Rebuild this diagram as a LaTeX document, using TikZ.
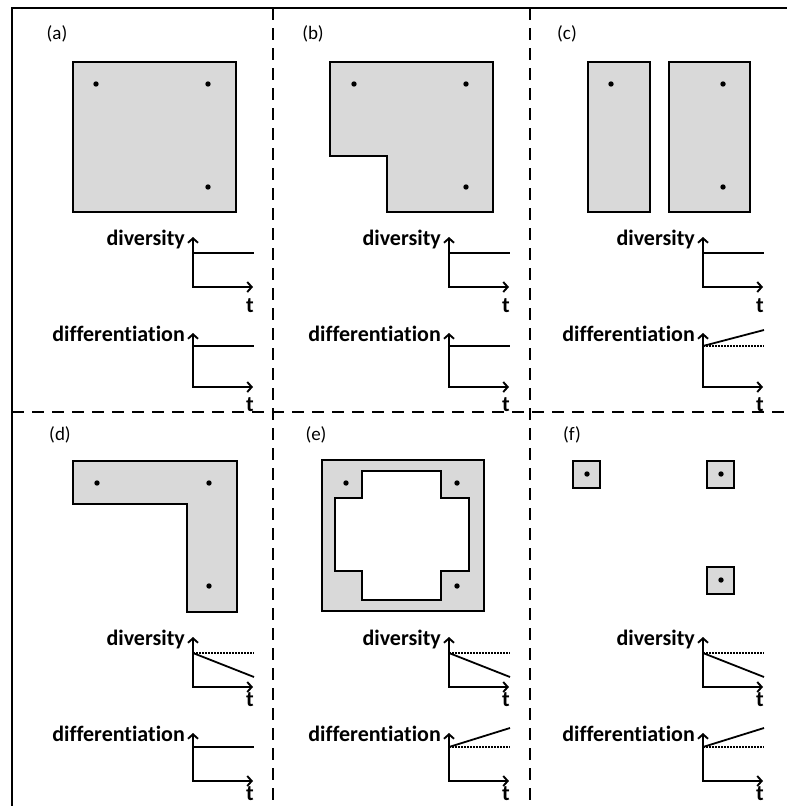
\documentclass[tikz,border=0pt]{standalone}
\usepackage{fontspec}
\setmainfont[Ligatures=NoCommon]{Carlito}
\usepackage{xcolor}
\usepackage{tikz}
\usetikzlibrary{arrows.meta}
\definecolor{patch}{RGB}{217,217,217}
\tikzset{
  frame/.style={line width=2.6pt},
  divider/.style={line width=2.6pt, dash pattern=on 12pt off 8pt},
  habitat/.style={draw, line width=1.5pt, fill=patch},
  axisline/.style={{Straight Barb[length=4.5pt,width=10pt]}-{Straight Barb[length=4.5pt,width=10pt]}, line width=1.9pt},
  trendline/.style={line width=1.8pt},
  refline/.style={line width=1.5pt, dash pattern=on 1.5pt off 1.5pt},
  axislabel/.style={font=\fontsize{22}{24}\selectfont\bfseries, inner sep=0pt},
  panellabel/.style={font=\fontsize{19}{22}\selectfont, inner sep=0pt},
}
\newcommand\chart[5]{%
  \coordinate (#1O) at #2;
  \path (#1O) ++(0,-#3) coordinate (#1Y);
  \path (#1O) ++(60,0) coordinate (#1X);
  \draw[axisline] (#1Y) -- (#1O) -- (#1X);
  \node[axislabel, anchor=base east] (#1N) at ([xshift=-8pt,yshift=-8pt]#1Y) {#4};
  \node[axislabel, anchor=north] (#1T) at ([xshift=-3pt,yshift=-#5pt]#1X) {t};
}
\newcommand\trend[3]{%
  \path (#1O) ++(0,-#2) coordinate (#1A) ++(61,0) coordinate (#1B);
  \path (#1B) ++(0,#2-#3) coordinate (#1C);
  \ifnum#2=#3\relax
    \draw[trendline] (#1A) -- (#1B);
  \else
    \draw[refline] (#1A) -- (#1B);
    \draw[trendline] (#1A) -- (#1C);
  \fi
}

\begin{document}
\begin{tikzpicture}[x=1pt, y=-1pt]
    \useasboundingbox (0,0) rectangle (787,806);

    \coordinate (FrameBL) at (12,806);
    \coordinate (FrameTL) at (12,8);
    \coordinate (FrameTR) at (787,8);
    \coordinate (ColB) at (273,8);
    \coordinate (ColBe) at (273,806);
    \coordinate (ColC) at (530,8);
    \coordinate (ColCe) at (530,806);
    \coordinate (RowL) at (12,412);
    \coordinate (RowR) at (787,412);

    \draw[frame] (FrameBL) -- (FrameTL) -- (FrameTR);
    \draw[divider] (ColB) -- (ColBe);
    \draw[divider] (ColC) -- (ColCe);
    \draw[divider] (RowL) -- (RowR);

    \node[panellabel] (LabA) at (57,34) {(a)};
    \node[panellabel] (LabB) at (313,34) {(b)};
    \node[panellabel] (LabC) at (567,34) {(c)};
    \node[panellabel] (LabD) at (60,435) {(d)};
    \node[panellabel] (LabE) at (316,435) {(e)};
    \node[panellabel] (LabF) at (572,435) {(f)};

    \draw[habitat] (73,62) rectangle (236,212);
    \draw[habitat] (330,62) -- (493,62) -- (493,212) -- (387,212) -- (387,156) -- (330,156) -- cycle;
    \draw[habitat] (588,62) rectangle (650,212);
    \draw[habitat] (669,62) rectangle (750,212);
    \draw[habitat] (73,461) -- (237,461) -- (237,612) -- (187,612) -- (187,504) -- (73,504) -- cycle;
    \draw[habitat, even odd rule] (322,460) rectangle (484,611)
      (362,471) -- (441,471) -- (441,498) -- (469,498) -- (469,571) -- (441,571)
      -- (441,600) -- (362,600) -- (362,571) -- (335,571) -- (335,498) -- (362,498) -- cycle;
    \draw[habitat] (573,461) rectangle (600,488);
    \draw[habitat] (707,461) rectangle (734,488);
    \draw[habitat] (707,567) rectangle (734,594);

    \foreach \name/\x/\y in {SiteA1/96/84, SiteA2/208/84, SiteA3/208/187,
                             SiteB1/354/84, SiteB2/466/84, SiteB3/466/187,
                             SiteC1/611/84, SiteC2/723/84, SiteC3/723/187,
                             SiteD1/97/483, SiteD2/209/483, SiteD3/209/586,
                             SiteE1/346/483, SiteE2/457/483, SiteE3/457/586,
                             SiteF1/587/474, SiteF2/721/474, SiteF3/721/580}
      \fill (\x,\y) coordinate (\name) circle (2.7);

    \chart{DivA}{(193,287)}{50}{diversity}{11}
    \chart{DifA}{(193,387)}{54}{differentiation}{10}
    \chart{DivB}{(449,287)}{50}{diversity}{11}
    \chart{DifB}{(449,387)}{54}{differentiation}{10}
    \chart{DivC}{(703,287)}{50}{diversity}{11}
    \chart{DifC}{(703,387)}{54}{differentiation}{10}
    \chart{DivD}{(193,687)}{50}{diversity}{5}
    \chart{DifD}{(193,781)}{48}{differentiation}{5}
    \chart{DivE}{(449,687)}{50}{diversity}{5}
    \chart{DifE}{(449,781)}{48}{differentiation}{5}
    \chart{DivF}{(703,687)}{50}{diversity}{5}
    \chart{DifF}{(703,781)}{48}{differentiation}{5}

    \trend{DivA}{34}{34}
    \trend{DifA}{41}{41}
    \trend{DivB}{34}{34}
    \trend{DifB}{41}{41}
    \trend{DivC}{34}{34}
    \trend{DifC}{41}{57}
    \trend{DivD}{34}{10}
    \trend{DifD}{34}{34}
    \trend{DivE}{34}{10}
    \trend{DifE}{34}{53}
    \trend{DivF}{34}{10}
    \trend{DifF}{34}{53}
\end{tikzpicture}
\end{document}
